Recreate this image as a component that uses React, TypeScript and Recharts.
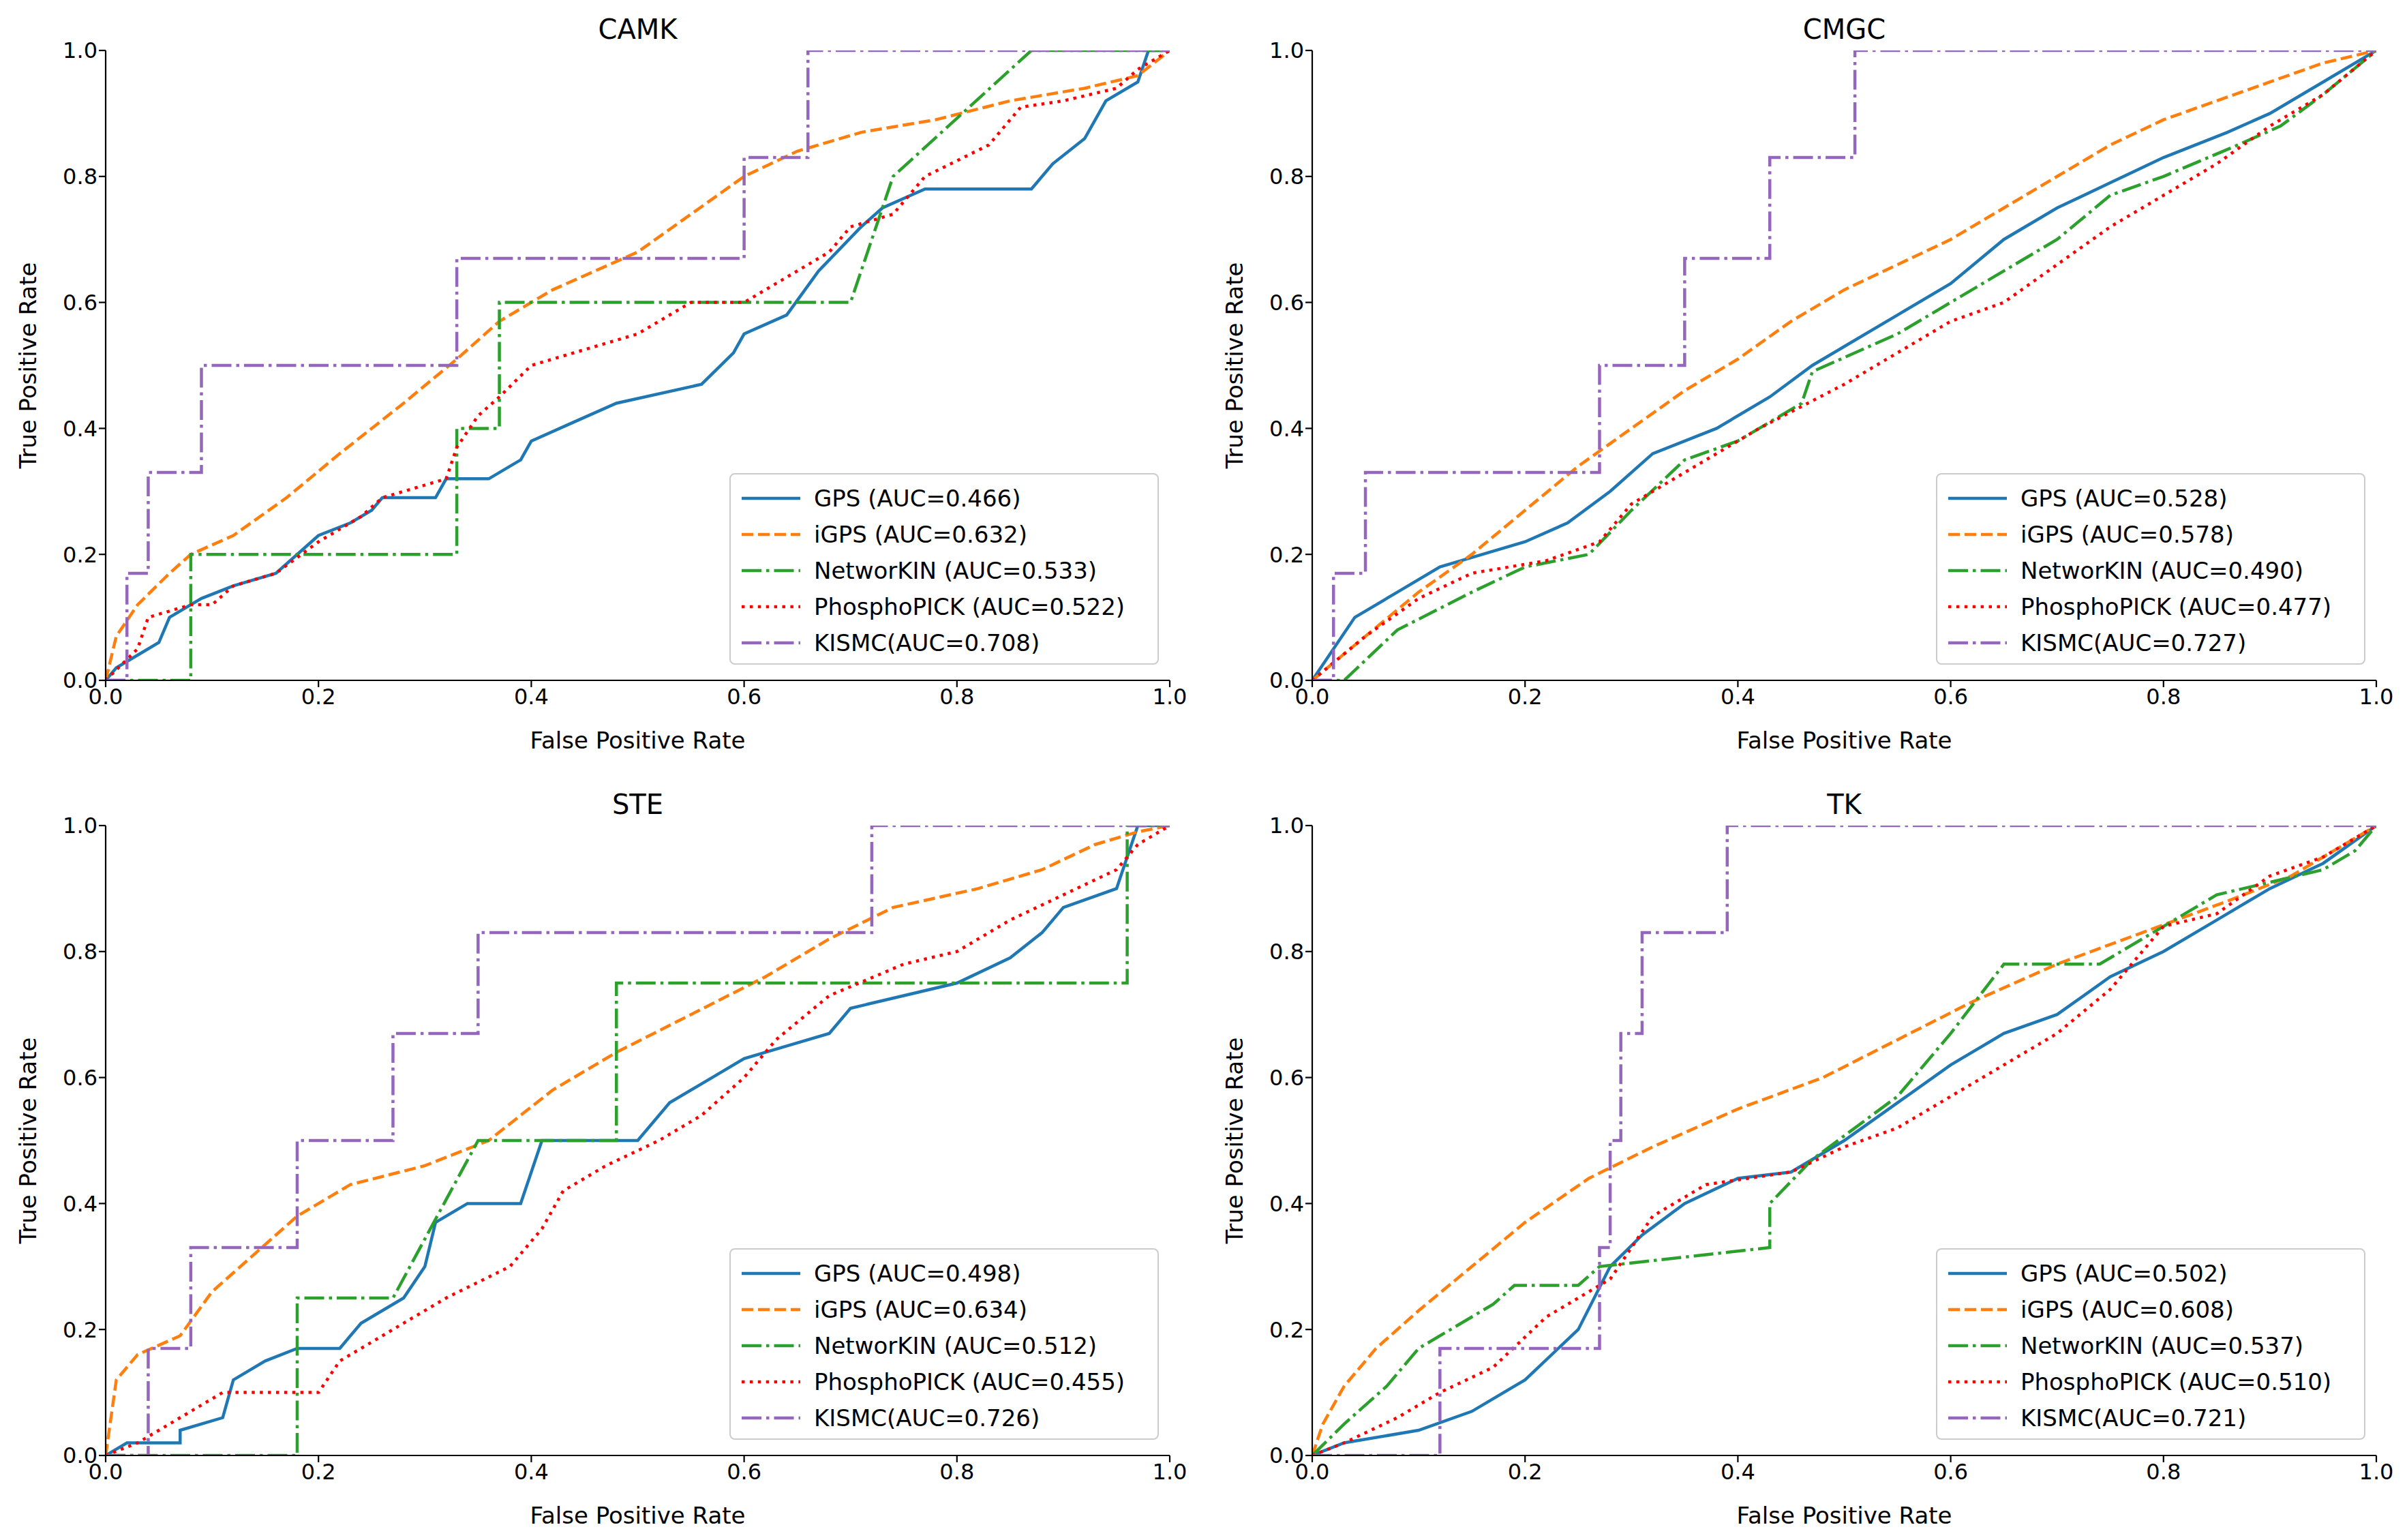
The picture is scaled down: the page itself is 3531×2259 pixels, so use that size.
import React from "react";
import { LineChart, Line, XAxis, YAxis } from "recharts";

type P = [number, number];
const ticks = [0, 0.2, 0.4, 0.6, 0.8, 1.0];
const seriesNames = ["GPS", "iGPS", "NetworKIN", "PhosphoPICK", "KISMC"];
const panelTitles = ["CAMK", "CMGC", "STE", "TK"];
const aucValues = [
  [0.466, 0.632, 0.533, 0.522, 0.708],
  [0.528, 0.578, 0.49, 0.477, 0.727],
  [0.498, 0.634, 0.512, 0.455, 0.726],
  [0.502, 0.608, 0.537, 0.51, 0.721],
];

const camkGPS: P[] = [[0,0],[0.01,0.02],[0.03,0.04],[0.05,0.06],[0.06,0.1],[0.09,0.13],[0.12,0.15],[0.16,0.17],[0.18,0.2],[0.2,0.23],[0.23,0.25],[0.25,0.27],[0.26,0.29],[0.31,0.29],[0.32,0.32],[0.36,0.32],[0.39,0.35],[0.4,0.38],[0.44,0.41],[0.48,0.44],[0.56,0.47],[0.59,0.52],[0.6,0.55],[0.64,0.58],[0.67,0.65],[0.71,0.72],[0.73,0.75],[0.77,0.78],[0.87,0.78],[0.89,0.82],[0.92,0.86],[0.94,0.92],[0.97,0.95],[0.98,1],[1,1]];
const camkIGPS: P[] = [[0,0],[0.01,0.07],[0.03,0.12],[0.06,0.17],[0.08,0.2],[0.12,0.23],[0.17,0.29],[0.22,0.36],[0.28,0.44],[0.33,0.51],[0.37,0.57],[0.42,0.62],[0.5,0.68],[0.55,0.74],[0.6,0.8],[0.65,0.84],[0.71,0.87],[0.78,0.89],[0.85,0.92],[0.92,0.94],[0.97,0.96],[1,1]];
const camkNK: P[] = [[0,0],[0.08,0],[0.08,0.2],[0.33,0.2],[0.33,0.4],[0.37,0.4],[0.37,0.6],[0.7,0.6],[0.74,0.8],[0.87,1],[1,1]];
const camkPP: P[] = [[0,0],[0.03,0.05],[0.04,0.1],[0.08,0.12],[0.1,0.12],[0.12,0.15],[0.16,0.17],[0.2,0.22],[0.24,0.26],[0.26,0.29],[0.32,0.32],[0.33,0.37],[0.35,0.42],[0.37,0.45],[0.4,0.5],[0.44,0.52],[0.5,0.55],[0.55,0.6],[0.6,0.6],[0.63,0.63],[0.68,0.68],[0.7,0.72],[0.74,0.74],[0.77,0.8],[0.83,0.85],[0.86,0.91],[0.9,0.92],[0.95,0.94],[0.97,0.97],[1,1]];
const camkKI: P[] = [[0,0],[0.02,0],[0.02,0.17],[0.04,0.17],[0.04,0.33],[0.09,0.33],[0.09,0.5],[0.33,0.5],[0.33,0.67],[0.6,0.67],[0.6,0.83],[0.66,0.83],[0.66,1],[1,1]];

const cmgcGPS: P[] = [[0,0],[0.02,0.05],[0.04,0.1],[0.08,0.14],[0.12,0.18],[0.16,0.2],[0.2,0.22],[0.24,0.25],[0.28,0.3],[0.32,0.36],[0.38,0.4],[0.43,0.45],[0.47,0.5],[0.5,0.53],[0.55,0.58],[0.6,0.63],[0.65,0.7],[0.7,0.75],[0.75,0.79],[0.8,0.83],[0.86,0.87],[0.9,0.9],[0.95,0.95],[1,1]];
const cmgcIGPS: P[] = [[0,0],[0.05,0.07],[0.1,0.14],[0.15,0.2],[0.2,0.27],[0.25,0.34],[0.3,0.4],[0.35,0.46],[0.4,0.51],[0.45,0.57],[0.5,0.62],[0.55,0.66],[0.6,0.7],[0.65,0.75],[0.7,0.8],[0.75,0.85],[0.8,0.89],[0.85,0.92],[0.9,0.95],[0.95,0.98],[1,1]];
const cmgcNK: P[] = [[0,0],[0.03,0],[0.08,0.08],[0.15,0.14],[0.2,0.18],[0.26,0.2],[0.3,0.27],[0.35,0.35],[0.4,0.38],[0.46,0.44],[0.47,0.49],[0.55,0.55],[0.6,0.6],[0.65,0.65],[0.7,0.7],[0.75,0.77],[0.8,0.8],[0.87,0.85],[0.91,0.88],[0.95,0.93],[1,1]];
const cmgcPP: P[] = [[0,0],[0.05,0.07],[0.1,0.13],[0.15,0.17],[0.22,0.19],[0.27,0.22],[0.3,0.28],[0.35,0.33],[0.42,0.4],[0.5,0.47],[0.55,0.52],[0.6,0.57],[0.65,0.6],[0.7,0.66],[0.75,0.72],[0.8,0.77],[0.85,0.82],[0.9,0.88],[0.95,0.93],[1,1]];
const cmgcKI: P[] = [[0,0],[0.02,0],[0.02,0.17],[0.05,0.17],[0.05,0.33],[0.27,0.33],[0.27,0.5],[0.35,0.5],[0.35,0.67],[0.43,0.67],[0.43,0.83],[0.51,0.83],[0.51,1],[1,1]];

const steGPS: P[] = [[0,0],[0.02,0.02],[0.07,0.02],[0.07,0.04],[0.11,0.06],[0.12,0.12],[0.15,0.15],[0.18,0.17],[0.22,0.17],[0.24,0.21],[0.28,0.25],[0.3,0.3],[0.31,0.37],[0.34,0.4],[0.39,0.4],[0.41,0.5],[0.5,0.5],[0.53,0.56],[0.57,0.6],[0.6,0.63],[0.64,0.65],[0.68,0.67],[0.7,0.71],[0.75,0.73],[0.8,0.75],[0.85,0.79],[0.88,0.83],[0.9,0.87],[0.95,0.9],[0.97,1],[1,1]];
const steIGPS: P[] = [[0,0],[0.01,0.12],[0.03,0.16],[0.07,0.19],[0.1,0.26],[0.14,0.32],[0.18,0.38],[0.23,0.43],[0.3,0.46],[0.36,0.5],[0.42,0.58],[0.48,0.64],[0.55,0.7],[0.62,0.76],[0.68,0.82],[0.74,0.87],[0.82,0.9],[0.88,0.93],[0.93,0.97],[0.97,0.99],[1,1]];
const steNK: P[] = [[0,0],[0.18,0],[0.18,0.25],[0.27,0.25],[0.35,0.5],[0.48,0.5],[0.48,0.75],[0.96,0.75],[0.96,1],[1,1]];
const stePP: P[] = [[0,0],[0.03,0.02],[0.07,0.06],[0.11,0.1],[0.2,0.1],[0.22,0.15],[0.27,0.2],[0.32,0.25],[0.38,0.3],[0.41,0.36],[0.43,0.42],[0.47,0.46],[0.52,0.5],[0.56,0.54],[0.6,0.6],[0.63,0.66],[0.68,0.73],[0.75,0.78],[0.8,0.8],[0.85,0.85],[0.9,0.89],[0.95,0.93],[0.97,0.97],[1,1]];
const steKI: P[] = [[0,0],[0.04,0],[0.04,0.17],[0.08,0.17],[0.08,0.33],[0.18,0.33],[0.18,0.5],[0.27,0.5],[0.27,0.67],[0.35,0.67],[0.35,0.83],[0.72,0.83],[0.72,1],[1,1]];

const tkGPS: P[] = [[0,0],[0.03,0.02],[0.1,0.04],[0.15,0.07],[0.2,0.12],[0.25,0.2],[0.28,0.3],[0.31,0.35],[0.35,0.4],[0.4,0.44],[0.45,0.45],[0.5,0.5],[0.55,0.56],[0.6,0.62],[0.65,0.67],[0.7,0.7],[0.75,0.76],[0.8,0.8],[0.85,0.85],[0.9,0.9],[0.95,0.94],[1,1]];
const tkIGPS: P[] = [[0,0],[0.01,0.05],[0.03,0.11],[0.06,0.17],[0.1,0.23],[0.15,0.3],[0.2,0.37],[0.26,0.44],[0.32,0.49],[0.4,0.55],[0.48,0.6],[0.55,0.66],[0.62,0.72],[0.7,0.78],[0.78,0.83],[0.86,0.88],[0.92,0.92],[0.97,0.97],[1,1]];
const tkNK: P[] = [[0,0],[0.03,0.05],[0.07,0.11],[0.1,0.17],[0.17,0.24],[0.19,0.27],[0.25,0.27],[0.27,0.3],[0.43,0.33],[0.43,0.4],[0.47,0.47],[0.55,0.57],[0.6,0.67],[0.65,0.78],[0.74,0.78],[0.8,0.84],[0.85,0.89],[0.9,0.91],[0.95,0.93],[0.98,0.96],[1,1]];
const tkPP: P[] = [[0,0],[0.03,0.02],[0.08,0.06],[0.12,0.1],[0.17,0.14],[0.22,0.22],[0.28,0.28],[0.32,0.38],[0.37,0.43],[0.45,0.45],[0.5,0.49],[0.55,0.52],[0.6,0.57],[0.65,0.62],[0.7,0.67],[0.75,0.74],[0.8,0.84],[0.85,0.86],[0.9,0.92],[0.95,0.95],[1,1]];
const tkKI: P[] = [[0,0],[0.12,0],[0.12,0.17],[0.27,0.17],[0.27,0.33],[0.28,0.33],[0.28,0.5],[0.29,0.5],[0.29,0.67],[0.31,0.67],[0.31,0.83],[0.39,0.83],[0.39,1],[1,1]];

const panels: P[][][] = [
  [camkGPS, camkIGPS, camkNK, camkPP, camkKI],
  [cmgcGPS, cmgcIGPS, cmgcNK, cmgcPP, cmgcKI],
  [steGPS, steIGPS, steNK, stePP, steKI],
  [tkGPS, tkIGPS, tkNK, tkPP, tkKI],
];

const colors = ["#1f77b4", "#ff7f0e", "#2ca02c", "#ff0000", "#9467bd"];
const dashes = ["", "17 7", "29 7 4.5 7", "4.5 7.4", "29 7 4.5 7"];
const FONT = "DejaVu Sans, sans-serif";
const ML = 147, MT = 66, PW = 1561, PH = 924, CW = 1758, CH = 1110;
const positions = [[0, 0], [1770, 0], [0, 1137], [1770, 1137]];

function Panel({ idx }: { idx: number }) {
  const data = panels[idx];
  const [left, top] = positions[idx];
  const tickStyle = { fontSize: 32, fill: "#000", fontFamily: FONT };
  return (
    <div style={{ position: "absolute", left, top, width: CW, height: CH }}>
      <div style={{ position: "absolute", left: ML, width: PW, top: 12, textAlign: "center", fontSize: 40, fontFamily: FONT }}>
        {panelTitles[idx]}
      </div>
      <LineChart width={CW} height={CH} margin={{ top: MT, left: ML - 100, right: CW - ML - PW, bottom: CH - MT - PH - 100 }} style={{ overflow: "visible" }}>
        <XAxis xAxisId="b" type="number" dataKey="x" domain={[0, 1]} ticks={ticks} tickFormatter={(v: number) => v.toFixed(1)}
          tick={tickStyle} height={100} stroke="#000" strokeWidth={2.2} tickSize={10}
          label={{ value: "False Positive Rate", position: "insideBottom", offset: 0, style: { fontSize: 34, fill: "#000", fontFamily: FONT } }} allowDataOverflow />
        <XAxis xAxisId="t" orientation="top" type="number" domain={[0, 1]} tick={false} tickLine={false} height={0} stroke="#000" strokeWidth={2.2} />
        <YAxis yAxisId="l" type="number" domain={[0, 1]} ticks={ticks} tickFormatter={(v: number) => v.toFixed(1)}
          tick={tickStyle} width={100} stroke="#000" strokeWidth={2.2} tickSize={10}
          label={{ value: "True Positive Rate", angle: -90, position: "insideLeft", offset: -14, style: { fontSize: 34, fill: "#000", fontFamily: FONT, textAnchor: "middle" } }} allowDataOverflow />
        <YAxis yAxisId="r" orientation="right" type="number" domain={[0, 1]} tick={false} tickLine={false} width={0} stroke="#000" strokeWidth={2.2} />
        {data.map((pts, i) => (
          <Line key={i} xAxisId="b" yAxisId="l" data={pts.map(([x, y]) => ({ x, y }))} dataKey="y" type="linear"
            stroke={colors[i]} strokeWidth={4.5} strokeDasharray={dashes[i] || undefined} dot={false} isAnimationActive={false} />
        ))}
      </LineChart>
      <div style={{ position: "absolute", left: ML + PW - 16 - 630, top: MT + PH - 23 - 281, width: 630, height: 281, boxSizing: "border-box",
        border: "2px solid #ccc", borderRadius: 8, background: "rgba(255,255,255,0.8)", padding: "8px 14px", fontFamily: FONT, fontSize: 34 }}>
        {seriesNames.map((n, i) => (
          <div key={i} style={{ display: "flex", alignItems: "center", height: 53 }}>
            <svg width={90} height={20} style={{ marginRight: 18 }}>
              <line x1={2} y1={10} x2={88} y2={10} stroke={colors[i]} strokeWidth={4.5} strokeDasharray={dashes[i] || undefined} />
            </svg>
            <span>{i === 4 ? `${n}(AUC=${aucValues[idx][i].toFixed(3)})` : `${n} (AUC=${aucValues[idx][i].toFixed(3)})`}</span>
          </div>
        ))}
      </div>
    </div>
  );
}

export default function App() {
  return (
    <div style={{ position: "relative", width: 3515, height: 2243, background: "#fff" }}>
      {[0, 1, 2, 3].map((i) => <Panel key={i} idx={i} />)}
    </div>
  );
}
